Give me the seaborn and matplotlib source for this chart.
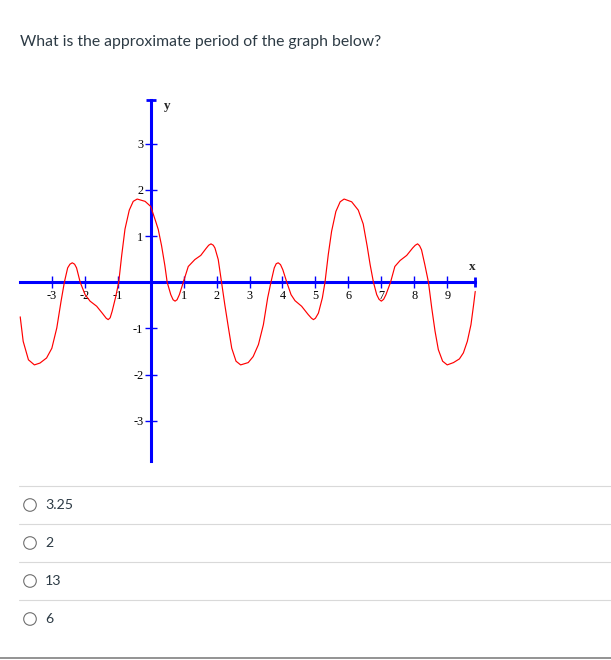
import numpy as np
import pandas as pd
import seaborn as sns
import matplotlib
matplotlib.use("Agg")
import matplotlib.pyplot as plt
from matplotlib.patches import Circle

# ---------------- data ----------------
question = "What is the approximate period of the graph below?"
options = ["3.25", "2", "13", "6"]

curve_x = [-3.96, -3.87, -3.71, -3.53, -3.36, -3.16, -3.00, -2.85, -2.72, -2.62,
           -2.52, -2.45, -2.38, -2.31, -2.25, -2.14, -1.99, -1.84, -1.64, -1.47,
           -1.35, -1.29, -1.23, -1.17, -1.06, -0.97, -0.88, -0.78, -0.65, -0.53,
           -0.41, -0.17, 0.00, 0.15, 0.23, 0.33, 0.43, 0.50, 0.61, 0.68,
           0.74, 0.80, 0.87, 0.99, 1.14, 1.34, 1.52, 1.68, 1.76, 1.83,
           1.90, 1.95, 2.05, 2.15, 2.25, 2.36, 2.46, 2.59, 2.73, 2.96,
           3.11, 3.27, 3.42, 3.55, 3.65, 3.75, 3.81, 3.87, 3.94, 4.01,
           4.13, 4.26, 4.38, 4.58, 4.78, 4.88, 4.94, 5.00, 5.09, 5.21,
           5.29, 5.39, 5.49, 5.62, 5.75, 5.87, 6.10, 6.30, 6.45, 6.57,
           6.66, 6.76, 6.86, 6.93, 7.00, 7.07, 7.14, 7.28, 7.41, 7.57,
           7.77, 7.95, 8.03, 8.10, 8.16, 8.22, 8.32, 8.43, 8.53, 8.63,
           8.73, 8.86, 9.00, 9.19, 9.37, 9.49, 9.61, 9.72, 9.80, 9.85]
curve_y = [-0.75, -1.28, -1.68, -1.79, -1.75, -1.64, -1.43, -0.99, -0.41, 0.00,
           0.31, 0.39, 0.42, 0.39, 0.31, 0.00, -0.27, -0.41, -0.52, -0.67,
           -0.78, -0.81, -0.77, -0.63, -0.31, 0.00, 0.58, 1.15, 1.56, 1.75,
           1.80, 1.75, 1.64, 1.32, 1.14, 0.79, 0.36, 0.00, -0.27, -0.38,
           -0.41, -0.38, -0.27, 0.00, 0.34, 0.49, 0.58, 0.73, 0.80, 0.83,
           0.80, 0.74, 0.49, 0.00, -0.49, -0.99, -1.43, -1.71, -1.79, -1.74,
           -1.61, -1.35, -0.92, -0.34, 0.00, 0.31, 0.40, 0.42, 0.38, 0.27,
           0.00, -0.27, -0.40, -0.52, -0.70, -0.78, -0.81, -0.78, -0.67, -0.34,
           0.00, 0.60, 1.10, 1.53, 1.74, 1.80, 1.74, 1.56, 1.26, 0.78,
           0.38, 0.00, -0.27, -0.37, -0.41, -0.37, -0.27, 0.00, 0.34, 0.47,
           0.58, 0.74, 0.80, 0.83, 0.79, 0.70, 0.38, 0.00, -0.56, -1.06,
           -1.46, -1.71, -1.79, -1.74, -1.66, -1.53, -1.28, -0.92, -0.49, -0.20]

x_ticks = [-3, -2, -1, 1, 2, 3, 4, 5, 6, 7, 8, 9]
x_tick_labels = ["-3", "-2", "-1", "1", "2", "3", "4", "5", "6", "7", "8", "9"]
y_ticks = [-3, -2, -1, 1, 2, 3]
y_tick_labels = ["-3", "-2", "-1", "1", "2", "3"]

# ---------------- figure ----------------
sns.set_theme(style="white")
plt.rcParams["font.family"] = ["Lato", "DejaVu Sans"]

W, H = 611, 660
fig = plt.figure(figsize=(W / 100, H / 100), dpi=100)
fig.patch.set_facecolor("white")

page = fig.add_axes([0, 0, 1, 1])
page.set_xlim(0, W)
page.set_ylim(H, 0)
page.axis("off")

text_col = "#2d3b45"
page.text(20, 41.7, question, ha="left", va="center", fontsize=11.35,
          color=text_col)

for yy in [486, 524.3, 562.3, 600.3]:
    page.plot([19, W], [yy, yy], color="#d9d9d9", lw=0.8)
page.plot([0, W], [658.3, 658.3], color="#8a8a8a", lw=1.3)

for i, opt in enumerate(options):
    cy = 505 + i * 38
    page.add_patch(Circle((30, cy), 6.3, fill=False, ec="#707070", lw=0.8))
    page.text(45, cy, opt, ha="left", va="center", fontsize=10.2,
              color=text_col)

# graph axes: pixel box x 10..490, y 95..470
ax = fig.add_axes([10 / W, (H - 470) / H, 480 / W, 375 / H])
ax.patch.set_alpha(0)
ax.set_xlim(-4.270, 10.298)
ax.set_ylim(-4.065, 4.052)

blue = (0, 0, 1)
for side in ["top", "right"]:
    ax.spines[side].set_visible(False)
ax.spines["left"].set_position(("data", 0))
ax.spines["bottom"].set_position(("data", 0))
ax.spines["left"].set_bounds(-3.87, 3.94)
ax.spines["bottom"].set_bounds(-3.97, 9.85)
for side in ["left", "bottom"]:
    ax.spines[side].set_color(blue)
    ax.spines[side].set_linewidth(2.2)
    ax.spines[side].set_zorder(2)

ax.set_xticks(x_ticks)
ax.set_xticklabels(x_tick_labels, fontfamily="Liberation Serif")
ax.set_yticks(y_ticks)
ax.set_yticklabels(y_tick_labels, fontfamily="Liberation Serif")
ax.tick_params(axis="both", which="major", bottom=True, left=True,
               top=False, right=False, direction="inout", length=8.6,
               width=1.0, color=blue, labelsize=8.8, pad=1.0,
               labelcolor="black")
ax.grid(False)

ax.plot([0], [3.94], marker="_", ms=7.2, mew=2.0, color=blue, zorder=2)
ax.plot([9.85], [0], marker="|", ms=7.2, mew=2.0, color=blue, zorder=2)

ax.text(0.49, 3.81, "y", ha="center", va="center", fontsize=9.5,
        fontweight="bold", fontfamily="Liberation Serif")
ax.text(9.77, 0.33, "x", ha="center", va="center", fontsize=9.5,
        fontweight="bold", fontfamily="Liberation Serif")

df = pd.DataFrame({"x": curve_x, "y": curve_y})
sns.lineplot(data=df, x="x", y="y", ax=ax, color="red", lw=0.85,
             sort=False, estimator=None, zorder=3)
ax.set_xlabel("")
ax.set_ylabel("")

fig.savefig("out.png", dpi=100, facecolor="white")
